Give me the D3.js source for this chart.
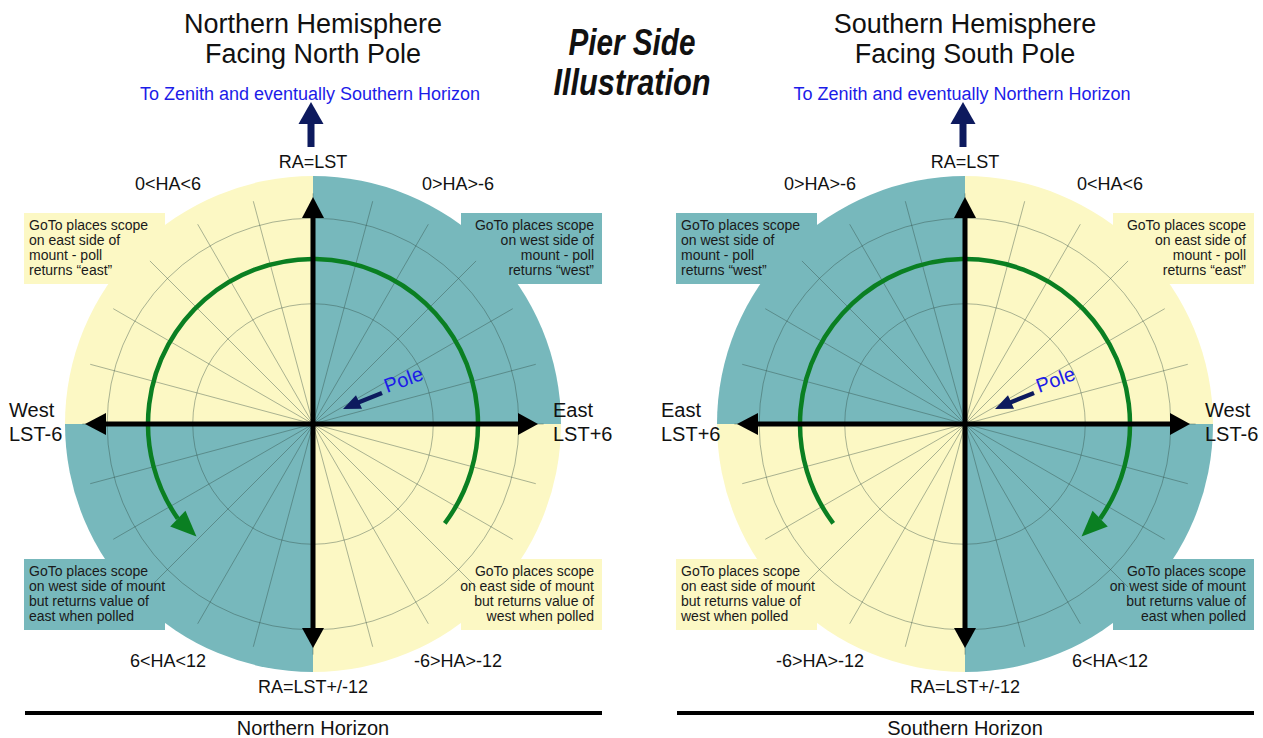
<!DOCTYPE html>
<html>
<head>
<meta charset="utf-8">
<script src="https://cdn.jsdelivr.net/npm/d3@7"></script>
<style>
  body { margin: 0; background: #fff; }
  svg { display: block; font-family: "Liberation Sans", Arial, sans-serif; }
</style>
</head>
<body>
<svg id="chart" width="1263" height="738"></svg>
<script>
// Grid: one spoke per hour of hour angle, two declination rings (fraction of disc radius)
const spokeHours = [0, 1, 2, 3, 4, 5, 6, 7, 8, 9, 10, 11, 12, 13, 14, 15, 16, 17, 18, 19, 20, 21, 22, 23];
const ringFractions = [0.485, 0.83];

// Quadrants in order top-left, top-right, bottom-left, bottom-right (northern view; southern is mirrored)
const quadrantSides = [[-1, -1], [1, -1], [-1, 1], [1, 1]];
const quadrantPier = ["east", "west", "west", "east"];
const haLabels = ["0<HA<6", "0>HA>-6", "6<HA<12", "-6>HA>-12"];
const boxLines = [
  ["GoTo places scope", "on east side of", "mount - poll", "returns \u201ceast\u201d"],
  ["GoTo places scope", "on west side of", "mount - poll", "returns \u201cwest\u201d"],
  ["GoTo places scope", "on west side of mount", "but returns value of", "east when polled"],
  ["GoTo places scope", "on east side of mount", "but returns value of", "west when polled"]
];
// side labels: [left, right] in the northern view
const sideLabels = [["West", "LST-6"], ["East", "LST+6"]];
const raLabels = ["RA=LST", "RA=LST+/-12"];

const panelTitles = [["Northern Hemisphere", "Facing North Pole"], ["Southern Hemisphere", "Facing South Pole"]];
const zenithNotes = ["To Zenith and eventually Southern Horizon", "To Zenith and eventually Northern Horizon"];
const horizonNames = ["Northern Horizon", "Southern Horizon"];
const panelMirror = [false, true];

// green tracking arrow, degrees clockwise from the top (northern view)
const trackStartDeg = 127;
const trackEndDeg = -125;
const trackTipDeg = -134;

const W = 1263, H = 738;
const R = 248, cyDisc = 424;
const panelCx = [313, 965];
const pierFill = { east: "#fcf8c4", west: "#77b8bc" };
const navy = "#0d1a5e", blue = "#1c1ce8", green = "#0a7f22";

const svg = d3.select("#chart");
const angle = d3.scaleLinear().domain([0, 24]).range([0, 2 * Math.PI]);
const radius = d3.scaleLinear().domain([0, 1]).range([0, R]);

// header
const head = svg.append("g").attr("font-weight", "bold").attr("font-style", "italic")
  .attr("text-anchor", "middle").attr("fill", "#111").attr("font-size", 36);
head.append("text").attr("x", 632).attr("y", 55).attr("textLength", 127)
  .attr("lengthAdjust", "spacingAndGlyphs").text("Pier Side");
head.append("text").attr("x", 632).attr("y", 95).attr("textLength", 157)
  .attr("lengthAdjust", "spacingAndGlyphs").text("Illustration");

function arrowHead(g, bx, by, tx, ty, half, fill) {
  const dx = tx - bx, dy = ty - by, L = Math.hypot(dx, dy);
  const nx = -dy / L * half, ny = dx / L * half;
  g.append("path")
    .attr("d", `M${tx},${ty}L${bx + nx},${by + ny}L${bx - nx},${by - ny}Z`)
    .attr("fill", fill);
}

function drawPanel(p) {
  const cx = panelCx[p], cy = cyDisc;
  const m = panelMirror[p] ? -1 : 1;
  const g = svg.append("g");

  // titles
  g.append("g").attr("text-anchor", "middle").attr("fill", "#111").attr("font-size", 27)
    .selectAll("text").data(panelTitles[p]).join("text")
    .attr("x", cx).attr("y", (d, i) => 33 + i * 30).text(d => d);
  g.append("text").attr("x", cx - 3).attr("y", 100).attr("text-anchor", "middle")
    .attr("fill", blue).attr("font-size", 18).text(zenithNotes[p]);

  // zenith arrow
  g.append("rect").attr("x", cx - 5.5).attr("y", 120).attr("width", 7).attr("height", 27).attr("fill", navy);
  arrowHead(g, cx - 2, 124, cx - 2, 102, 12.5, navy);

  // quadrant fills + text boxes
  const quad = quadrantSides.map(([sx, sy], i) => ({ sx: sx * m, sy, i }));
  const wedge = d3.arc().innerRadius(0).outerRadius(R);
  const startFor = (sx, sy) => sx > 0 ? (sy < 0 ? 0 : Math.PI / 2) : (sy > 0 ? Math.PI : 1.5 * Math.PI);
  g.append("g").attr("transform", `translate(${cx},${cy})`)
    .selectAll("path").data(quad).join("path")
    .attr("d", d => wedge({ startAngle: startFor(d.sx, d.sy), endAngle: startFor(d.sx, d.sy) + Math.PI / 2 }))
    .attr("fill", d => pierFill[quadrantPier[d.i]]);

  const boxTop = sy => sy < 0 ? 213 : 559;
  g.append("g").selectAll("rect").data(quad).join("rect")
    .attr("x", d => d.sx < 0 ? cx - 289 : cx + 148)
    .attr("y", d => boxTop(d.sy))
    .attr("width", 141).attr("height", 71)
    .attr("fill", d => pierFill[quadrantPier[d.i]]);

  // grid
  const grid = g.append("g").attr("transform", `translate(${cx},${cy})`)
    .attr("stroke", "#2f4a44").attr("stroke-opacity", 0.45).attr("stroke-width", 0.9).attr("fill", "none");
  grid.selectAll("line").data(spokeHours).join("line")
    .attr("x1", 0).attr("y1", 0)
    .attr("x2", h => Math.sin(angle(h)) * radius(0.93))
    .attr("y2", h => -Math.cos(angle(h)) * radius(0.93));
  grid.selectAll("circle").data(ringFractions).join("circle").attr("r", f => radius(f));

  // box texts
  quad.forEach(d => {
    const t = g.append("text").attr("font-size", 14).attr("fill", "#1a1a1a")
      .attr("text-anchor", d.sx < 0 ? "start" : "end");
    boxLines[d.i].forEach((line, k) => {
      t.append("tspan").attr("x", d.sx < 0 ? cx - 284 : cx + 281)
        .attr("y", boxTop(d.sy) + 17 + k * 15).text(line);
    });
  });

  // green tracking arc
  const rT = 165;
  const toCanvas = deg => (m * deg - 90) * Math.PI / 180;
  const a0 = toCanvas(trackStartDeg), a1 = toCanvas(trackEndDeg), aT = toCanvas(trackTipDeg);
  const path = d3.path();
  path.moveTo(cx + rT * Math.cos(a0), cy + rT * Math.sin(a0));
  path.arc(cx, cy, rT, a0, a1, m > 0);
  g.append("path").attr("d", path.toString()).attr("fill", "none")
    .attr("stroke", green).attr("stroke-width", 4.5);
  arrowHead(g, cx + rT * Math.cos(a1), cy + rT * Math.sin(a1),
    cx + (rT - 3) * Math.cos(aT), cy + (rT - 3) * Math.sin(aT), 11, green);

  // axes
  const ax = g.append("g");
  ax.append("line").attr("x1", cx).attr("y1", cy - 210).attr("x2", cx).attr("y2", cy + 207)
    .attr("stroke", "#000").attr("stroke-width", 5);
  ax.append("line").attr("x1", cx - 210).attr("y1", cy).attr("x2", cx + 208).attr("y2", cy)
    .attr("stroke", "#000").attr("stroke-width", 5);
  arrowHead(ax, cx, cy - 206, cx, cy - 227, 11, "#000");
  arrowHead(ax, cx, cy + 204, cx, cy + 224, 11, "#000");
  arrowHead(ax, cx - 207, cy, cx - 228, cy, 11, "#000");
  arrowHead(ax, cx + 205, cy, cx + 225, cy, 11, "#000");

  // pole marker (same in both views)
  g.append("line").attr("x1", cx + 69).attr("y1", cy - 31).attr("x2", cx + 44).attr("y2", cy - 21)
    .attr("stroke", navy).attr("stroke-width", 4.5);
  arrowHead(g, cx + 46, cy - 22, cx + 30, cy - 15, 7.5, navy);
  g.append("text").attr("transform", `translate(${cx + 74},${cy - 31}) rotate(-20)`)
    .attr("fill", blue).attr("font-size", 20).text("Pole");

  // axis labels
  const lab = g.append("g").attr("fill", "#111");
  lab.append("text").attr("x", cx).attr("y", 168).attr("text-anchor", "middle").attr("font-size", 18).text(raLabels[0]);
  lab.append("text").attr("x", cx).attr("y", 693).attr("text-anchor", "middle").attr("font-size", 18).text(raLabels[1]);
  quad.forEach(d => {
    lab.append("text").attr("x", cx + d.sx * 145).attr("y", d.sy < 0 ? 190 : 667)
      .attr("text-anchor", "middle").attr("font-size", 18).text(haLabels[d.i]);
  });
  sideLabels.forEach((pair, j) => {
    const side = (j === 0 ? -1 : 1) * m;
    const t = lab.append("text").attr("font-size", 20);
    pair.forEach((s, k) => t.append("tspan")
      .attr("x", side < 0 ? cx - 304 : cx + 240).attr("y", 417 + k * 24).text(s));
  });

  // horizon
  g.append("line").attr("x1", cx - 288).attr("x2", cx + 289).attr("y1", 713).attr("y2", 713)
    .attr("stroke", "#000").attr("stroke-width", 4);
  g.append("text").attr("x", cx).attr("y", 735).attr("text-anchor", "middle")
    .attr("font-size", 20).attr("fill", "#111").text(horizonNames[p]);
}

panelCx.forEach((_, p) => drawPanel(p));
</script>
</body>
</html>
